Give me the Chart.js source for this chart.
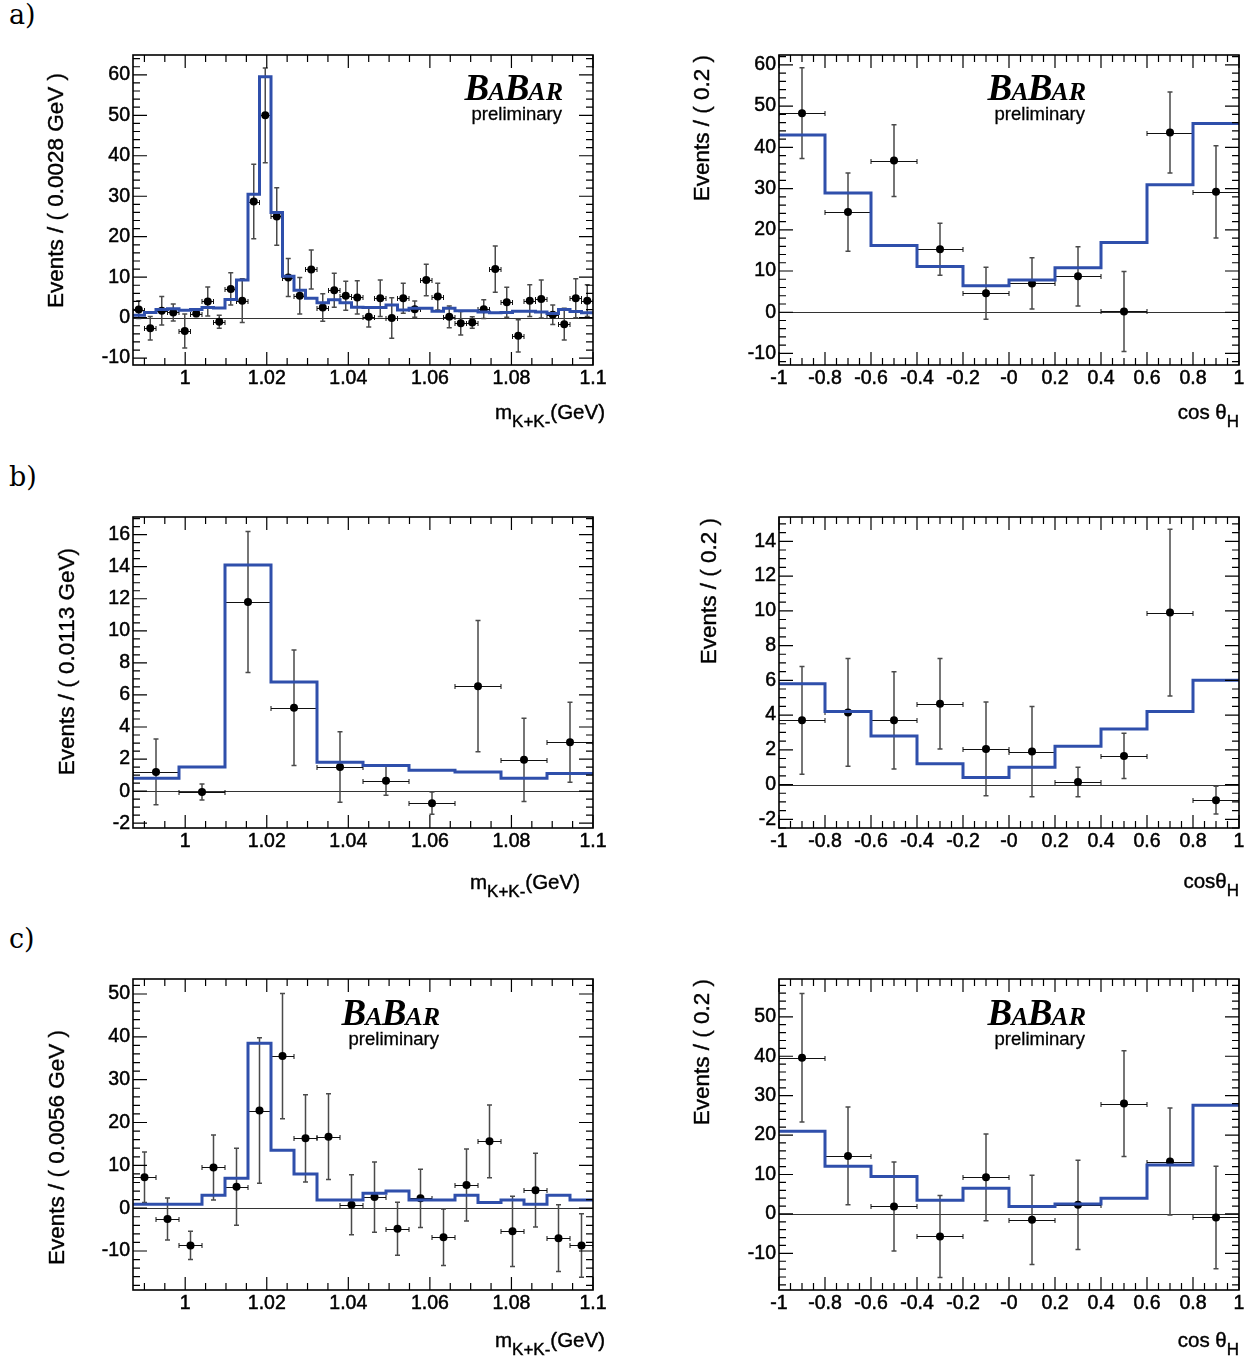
<!DOCTYPE html>
<html>
<head>
<meta charset="utf-8">
<script src="https://cdn.jsdelivr.net/npm/chart.js@4.4.1/dist/chart.umd.min.js"></script>
<style>
  html, body { margin: 0; padding: 0; background: #fff; }
  body { width: 1256px; height: 1361px; position: relative; overflow: hidden; }
  canvas { position: absolute; }
  .tag { position: absolute; left: 9px; font-family: 'DejaVu Serif', 'Liberation Serif', serif; font-size: 27px; line-height: 1; color: #000; }
</style>
</head>
<body>
<div class="tag" style="top:1px">a)</div>
<div class="tag" style="top:463px">b)</div>
<div class="tag" style="top:925px">c)</div>
<canvas id="aMass" width="620" height="415"></canvas>
<canvas id="aCos" width="616" height="415"></canvas>
<canvas id="bMass" width="620" height="416"></canvas>
<canvas id="bCos" width="616" height="416"></canvas>
<canvas id="cMass" width="620" height="412"></canvas>
<canvas id="cCos" width="616" height="412"></canvas>
<script>
// axes
const massRange = [0.9872, 1.1];
const cosRange = [-1, 1];
const massTicks = [1, 1.02, 1.04, 1.06, 1.08, 1.1];
const massTickLabels = ['1', '1.02', '1.04', '1.06', '1.08', '1.1'];
const cosTicks = [-1, -0.8, -0.6, -0.4, -0.2, 0, 0.2, 0.4, 0.6, 0.8, 1];
const cosTickLabels = ['-1', '-0.8', '-0.6', '-0.4', '-0.2', '-0', '0.2', '0.4', '0.6', '0.8', '1'];

// a) mass, 40 bins
const aMassVals = [2.0, -2.6, 1.7, 1.3, -3.3, 1.0, 4.0, -1.0, 7.1, 4.2,
                   28.7, 50.0, 25.0, 9.9, 5.4, 11.9, 2.5, 6.8, 5.4, 5.0,
                   0.2, 4.8, -0.1, 4.8, 2.1, 9.3, 5.2, 0.2, -1.4, -1.2,
                   2.1, 12.0, 3.8, -4.5, 4.2, 4.6, 0.7, -1.6, 4.8, 4.2];
const aMassErr = [2.2, 2.9, 3.5, 2.1, 4.2, 0.7, 3.6, 1.6, 4.0, 5.4,
                  9.2, 11.7, 7.1, 4.7, 4.5, 4.8, 3.4, 4.2, 3.6, 4.1,
                  2.5, 4.5, 5.0, 3.7, 2.0, 3.9, 3.3, 2.7, 2.9, 1.4,
                  2.3, 5.7, 3.7, 4.0, 3.9, 4.7, 2.4, 3.9, 4.8, 3.9];
const aMassFit = [0.6, 1.3, 2.0, 2.2, 1.8, 2.0, 2.5, 2.4, 4.5, 9.3,
                  30.5, 59.5, 26.0, 10.2, 6.8, 4.8, 3.7, 4.4, 3.7, 2.6,
                  2.5, 2.5, 3.1, 1.9, 2.3, 2.3, 1.6, 2.3, 1.7, 1.7,
                  1.4, 1.2, 1.3, 1.6, 1.6, 1.4, 1.0, 2.0, 1.5, 1.2];
const aMassYTicks = [-10, 0, 10, 20, 30, 40, 50, 60];

// a) cos theta_H, 10 bins
const aCosVals = [48.3, 24.3, 36.8, 15.3, 4.6, 7.0, 8.7, 0.2, 43.6, 29.2];
const aCosErr = [11.0, 9.5, 8.7, 6.3, 6.3, 6.2, 7.2, 9.7, 9.8, 11.2];
const aCosFit = [43.0, 28.9, 16.2, 11.1, 6.4, 7.8, 10.8, 16.9, 30.9, 45.8];
const aCosYTicks = [-10, 0, 10, 20, 30, 40, 50, 60];

// b) mass, 10 bins
const bMassVals = [1.2, -0.05, 11.8, 5.2, 1.5, 0.65, -0.75, 6.55, 1.95, 3.05];
const bMassErr = [2.05, 0.5, 4.4, 3.6, 2.2, 0.9, 0.7, 4.1, 2.6, 2.5];
const bMassFit = [0.8, 1.5, 14.1, 6.8, 1.8, 1.6, 1.3, 1.2, 0.8, 1.1];
const bMassYTicks = [-2, 0, 2, 4, 6, 8, 10, 12, 14, 16];

// b) cos theta_H
const bCosVals = [3.7, 4.15, 3.7, 4.65, 2.05, 1.9, 0.15, 1.65, 9.9, -0.9];
const bCosErr = [3.1, 3.1, 2.8, 2.6, 2.7, 2.6, 0.85, 1.3, 4.8, 0.8];
const bCosFit = [5.8, 4.2, 2.8, 1.2, 0.4, 1.0, 2.2, 3.2, 4.2, 6.0];
const bCosYTicks = [-2, 0, 2, 4, 6, 8, 10, 12, 14];

// c) mass, 20 bins
const cMassVals = [7.2, -2.5, -8.7, 9.5, 5.0, 22.8, 35.5, 16.3, 16.7, 0.8,
                   2.6, -4.8, 2.3, -6.8, 5.4, 15.6, -5.4, 4.2, -7.0, -8.7];
const cMassErr = [5.9, 4.9, 3.3, 7.6, 9.0, 17.0, 14.6, 10.2, 10.0, 7.0,
                  8.2, 6.2, 6.8, 6.6, 8.4, 8.5, 8.2, 8.6, 7.8, 7.4];
const cMassFit = [0.9, 0.9, 0.9, 3.0, 7.0, 38.5, 13.5, 8.0, 1.9, 1.9,
                  3.5, 4.0, 1.9, 1.9, 3.0, 1.3, 1.9, 0.9, 3.0, 1.9];
const cMassYTicks = [-10, 0, 10, 20, 30, 40, 50];

// c) cos theta_H
const cCosVals = [39.6, 14.7, 1.9, -5.7, 9.3, -1.5, 2.3, 28.0, 13.3, -0.9];
const cCosErr = [16.3, 12.4, 11.3, 10.4, 11.0, 11.3, 11.3, 13.4, 13.6, 13.0];
const cCosFit = [21.0, 12.1, 9.5, 3.5, 6.5, 1.9, 2.5, 4.0, 12.4, 27.6];
const cCosYTicks = [-10, 0, 10, 20, 30, 40, 50];

const panels = [
  { id: 'aMass', x: 'mass', y: [-11.7, 64.9], yTicks: aMassYTicks, yMinor: 2,
    vals: aMassVals, errs: aMassErr, fit: aMassFit, yTitle: 'Events / ( 0.0028 GeV )' },
  { id: 'aCos', x: 'cos', y: [-12.8, 62.4], yTicks: aCosYTicks, yMinor: 2,
    vals: aCosVals, errs: aCosErr, fit: aCosFit, yTitle: 'Events / ( 0.2 )' },
  { id: 'bMass', x: 'mass', y: [-2.3, 17.1], yTicks: bMassYTicks, yMinor: 0.5,
    vals: bMassVals, errs: bMassErr, fit: bMassFit, yTitle: 'Events / ( 0.0113 GeV)' },
  { id: 'bCos', x: 'cos', y: [-2.5, 15.4], yTicks: bCosYTicks, yMinor: 0.5,
    vals: bCosVals, errs: bCosErr, fit: bCosFit, yTitle: 'Events / ( 0.2 )' },
  { id: 'cMass', x: 'mass', y: [-19.1, 53.5], yTicks: cMassYTicks, yMinor: 2,
    vals: cMassVals, errs: cMassErr, fit: cMassFit, yTitle: 'Events / ( 0.0056 GeV )' },
  { id: 'cCos', x: 'cos', y: [-19.3, 59.6], yTicks: cCosYTicks, yMinor: 2,
    vals: cCosVals, errs: cCosErr, fit: cCosFit, yTitle: 'Events / ( 0.2 )' }
];

// where each pad sits on the page
const layout = {
  aMass: { left: 0, top: 25, axisW: 133, padR: 27, axisH: 75, yT: [-76, 18], xT: [12, 54], tight: false, logo: [31, 45] },
  aCos:  { left: 640, top: 25, axisW: 139, padR: 17, axisH: 75, yT: [-76, 0], xT: [0, 54], tight: false, logo: [154, 45] },
  bMass: { left: 0, top: 487, axisW: 133, padR: 27, axisH: 75, yT: [-65, 31], xT: [-13, 61], tight: false, logo: null },
  bCos:  { left: 640, top: 487, axisW: 139, padR: 17, axisH: 75, yT: [-69, 1], xT: [0, 60], tight: true, logo: null },
  cMass: { left: 0, top: 949, axisW: 133, padR: 27, axisH: 71, yT: [-75, 51], xT: [12, 57], tight: false, logo: [154, 46] },
  cCos:  { left: 640, top: 949, axisW: 139, padR: 17, axisH: 71, yT: [-76, 0], xT: [0, 57], tight: false, logo: [154, 46] }
};

const SANS = '"Liberation Sans", Arial, Helvetica, sans-serif';
const SERIF = '"Liberation Serif", "Times New Roman", serif';
const FIT_BLUE = '#2f4fab';

// fill plus a hairline stroke, the original text is a little heavier than plain Liberation
function heavyText(ctx, t, x, y, w) {
  ctx.fillText(t, x, y);
  ctx.lineWidth = w;
  ctx.strokeStyle = '#000';
  ctx.strokeText(t, x, y);
}

function drawParts(ctx, parts, xRight, y) {
  const big = '20.5px ' + SANS, small = '17px ' + SANS;
  let total = 0;
  parts.forEach(([t, sub]) => { ctx.font = sub ? small : big; total += ctx.measureText(t).width; });
  let x = xRight - total;
  ctx.textAlign = 'left';
  ctx.textBaseline = 'alphabetic';
  parts.forEach(([t, sub]) => {
    ctx.font = sub ? small : big;
    heavyText(ctx, t, x, sub ? y + 7.5 : y, 0.4);
    x += ctx.measureText(t).width;
  });
}

function drawLogo(ctx, xRight, yBase) {
  const big = 'bold italic 37px ' + SERIF, small = 'bold italic 26px ' + SERIF;
  const parts = [['B', big], ['A', small], ['B', big], ['AR', small]];
  let total = 0;
  parts.forEach(([t, f]) => { ctx.font = f; total += ctx.measureText(t).width - 1; });
  let x = xRight - total;
  ctx.textAlign = 'left';
  ctx.textBaseline = 'alphabetic';
  parts.forEach(([t, f]) => { ctx.font = f; ctx.fillText(t, x, yBase); x += ctx.measureText(t).width - 1; });
  ctx.font = '18.5px ' + SANS;
  ctx.textAlign = 'right';
  heavyText(ctx, 'preliminary', xRight, yBase + 20, 0.3);
}

function minorValues(lo, hi, step) {
  const out = [];
  for (let v = Math.ceil(lo / step) * step; v <= hi + 1e-9; v += step) out.push(v);
  return out;
}

function padPlugin(p, L, xr, w) {
  const isMass = p.x === 'mass';
  return {
    id: 'pad_' + p.id,
    beforeDatasetsDraw(chart) {
      const { ctx, chartArea: a, scales: { x, y } } = chart;
      ctx.save();
      ctx.beginPath();
      ctx.rect(a.left, a.top, a.right - a.left, a.bottom - a.top);
      ctx.clip();
      // zero line
      const y0 = Math.round(y.getPixelForValue(0)) + 0.5;
      ctx.strokeStyle = '#333';
      ctx.lineWidth = 1;
      ctx.beginPath(); ctx.moveTo(a.left, y0); ctx.lineTo(a.right, y0); ctx.stroke();
      // error bars
      p.vals.forEach((v, i) => {
        const c = xr[0] + (i + 0.5) * w;
        const px = x.getPixelForValue(c);
        const py = Math.round(y.getPixelForValue(v)) + 0.5;
        const hi = y.getPixelForValue(v + p.errs[i]);
        const lo = y.getPixelForValue(v - p.errs[i]);
        const l = x.getPixelForValue(c - w / 2), r = x.getPixelForValue(c + w / 2);
        ctx.strokeStyle = '#4a4a4a';
        ctx.lineWidth = 1.5;
        ctx.beginPath();
        ctx.moveTo(px, hi); ctx.lineTo(px, lo);
        ctx.moveTo(px - 2.5, hi); ctx.lineTo(px + 2.5, hi);
        ctx.moveTo(px - 2.5, lo); ctx.lineTo(px + 2.5, lo);
        ctx.stroke();
        ctx.strokeStyle = '#111';
        ctx.lineWidth = 1;
        ctx.beginPath();
        ctx.moveTo(l, py); ctx.lineTo(r, py);
        ctx.moveTo(l, py - 2.5); ctx.lineTo(l, py + 2.5);
        ctx.moveTo(r, py - 2.5); ctx.lineTo(r, py + 2.5);
        ctx.stroke();
      });
      ctx.restore();
    },
    afterDatasetsDraw(chart) {
      const { ctx, chartArea: a, scales: { x, y } } = chart;
      ctx.save();
      ctx.strokeStyle = '#000';
      ctx.lineWidth = 1.2;
      ctx.beginPath();
      const tickY = (vals, len) => vals.forEach(v => {
        const py = y.getPixelForValue(v);
        if (py < a.top - 0.5 || py > a.bottom + 0.5) return;
        ctx.moveTo(a.left, py); ctx.lineTo(a.left + len, py);
        ctx.moveTo(a.right, py); ctx.lineTo(a.right - len, py);
      });
      const tickX = (vals, len) => vals.forEach(v => {
        const px = x.getPixelForValue(v);
        if (px < a.left - 0.5 || px > a.right + 0.5) return;
        ctx.moveTo(px, a.bottom); ctx.lineTo(px, a.bottom - len);
        ctx.moveTo(px, a.top); ctx.lineTo(px, a.top + len);
      });
      tickY(minorValues(p.y[0], p.y[1], p.yMinor), 7);
      tickY(p.yTicks, 14);
      tickX(minorValues(xr[0], xr[1], isMass ? 0.005 : 0.05), 7);
      tickX(isMass ? massTicks : cosTicks, 13);
      ctx.stroke();
      ctx.lineWidth = 1.6;
      ctx.strokeRect(a.left, a.top, a.right - a.left, a.bottom - a.top);

      ctx.fillStyle = '#000';
      // y title
      ctx.save();
      ctx.translate(a.left + L.yT[0], a.top + L.yT[1]);
      ctx.rotate(-Math.PI / 2);
      ctx.font = '22.5px ' + SANS;
      ctx.textAlign = 'right';
      ctx.textBaseline = 'middle';
      heavyText(ctx, p.yTitle, 0, 0, 0.4);
      ctx.restore();
      // x title
      const parts = isMass
        ? [['m', false], ['K+K-', true], ['(GeV)', false]]
        : [[L.tight ? 'cos\u03b8' : 'cos \u03b8', false], ['H', true]];
      drawParts(ctx, parts, a.right + L.xT[0], a.bottom + L.xT[1]);
      if (L.logo) drawLogo(ctx, a.right - L.logo[0], a.top + L.logo[1]);
      ctx.restore();
    }
  };
}

panels.forEach(p => {
  const L = layout[p.id];
  const isMass = p.x === 'mass';
  const xr = isMass ? massRange : cosRange;
  const n = p.vals.length;
  const w = (xr[1] - xr[0]) / n;
  const points = p.vals.map((v, i) => ({ x: xr[0] + (i + 0.5) * w, y: v }));
  const steps = p.fit.map((v, i) => ({ x: xr[0] + i * w, y: v }));
  steps.push({ x: xr[1], y: p.fit[n - 1] });

  const canvas = document.getElementById(p.id);
  canvas.style.left = L.left + 'px';
  canvas.style.top = L.top + 'px';

  const tickFont = { family: SANS, size: 19.5 };
  new Chart(canvas, {
    data: {
      datasets: [
        { type: 'line', data: steps, stepped: true, borderColor: FIT_BLUE, borderWidth: 3,
          pointRadius: 0, fill: false, order: 0 },
        { type: 'scatter', data: points, pointRadius: 4, pointBackgroundColor: '#000',
          pointBorderColor: '#000', pointBorderWidth: 0, order: 1 }
      ]
    },
    options: {
      responsive: false,
      animation: false,
      events: [],
      layout: { padding: { top: 30, right: L.padR, left: 0, bottom: 0 } },
      plugins: { legend: { display: false }, tooltip: { enabled: false } },
      scales: {
        x: {
          type: 'linear', min: xr[0], max: xr[1],
          afterBuildTicks: s => { s.ticks = (isMass ? massTicks : cosTicks).map(v => ({ value: v })); },
          afterFit: s => { s.height = L.axisH; },
          ticks: {
            callback: (v, i) => (isMass ? massTickLabels : cosTickLabels)[i],
            font: tickFont, color: '#000', padding: 2, maxRotation: 0, autoSkip: false,
            textStrokeColor: '#000', textStrokeWidth: 0.5
          },
          grid: { display: false, drawTicks: false },
          border: { display: false }
        },
        y: {
          type: 'linear', min: p.y[0], max: p.y[1],
          afterBuildTicks: s => { s.ticks = p.yTicks.map(v => ({ value: v })); },
          afterFit: s => { s.width = L.axisW; },
          ticks: {
            callback: v => String(v), font: tickFont, color: '#000', padding: 3, autoSkip: false,
            textStrokeColor: '#000', textStrokeWidth: 0.5
          },
          grid: { display: false, drawTicks: false },
          border: { display: false }
        }
      }
    },
    plugins: [padPlugin(p, L, xr, w)]
  });
});
</script>
</body>
</html>
